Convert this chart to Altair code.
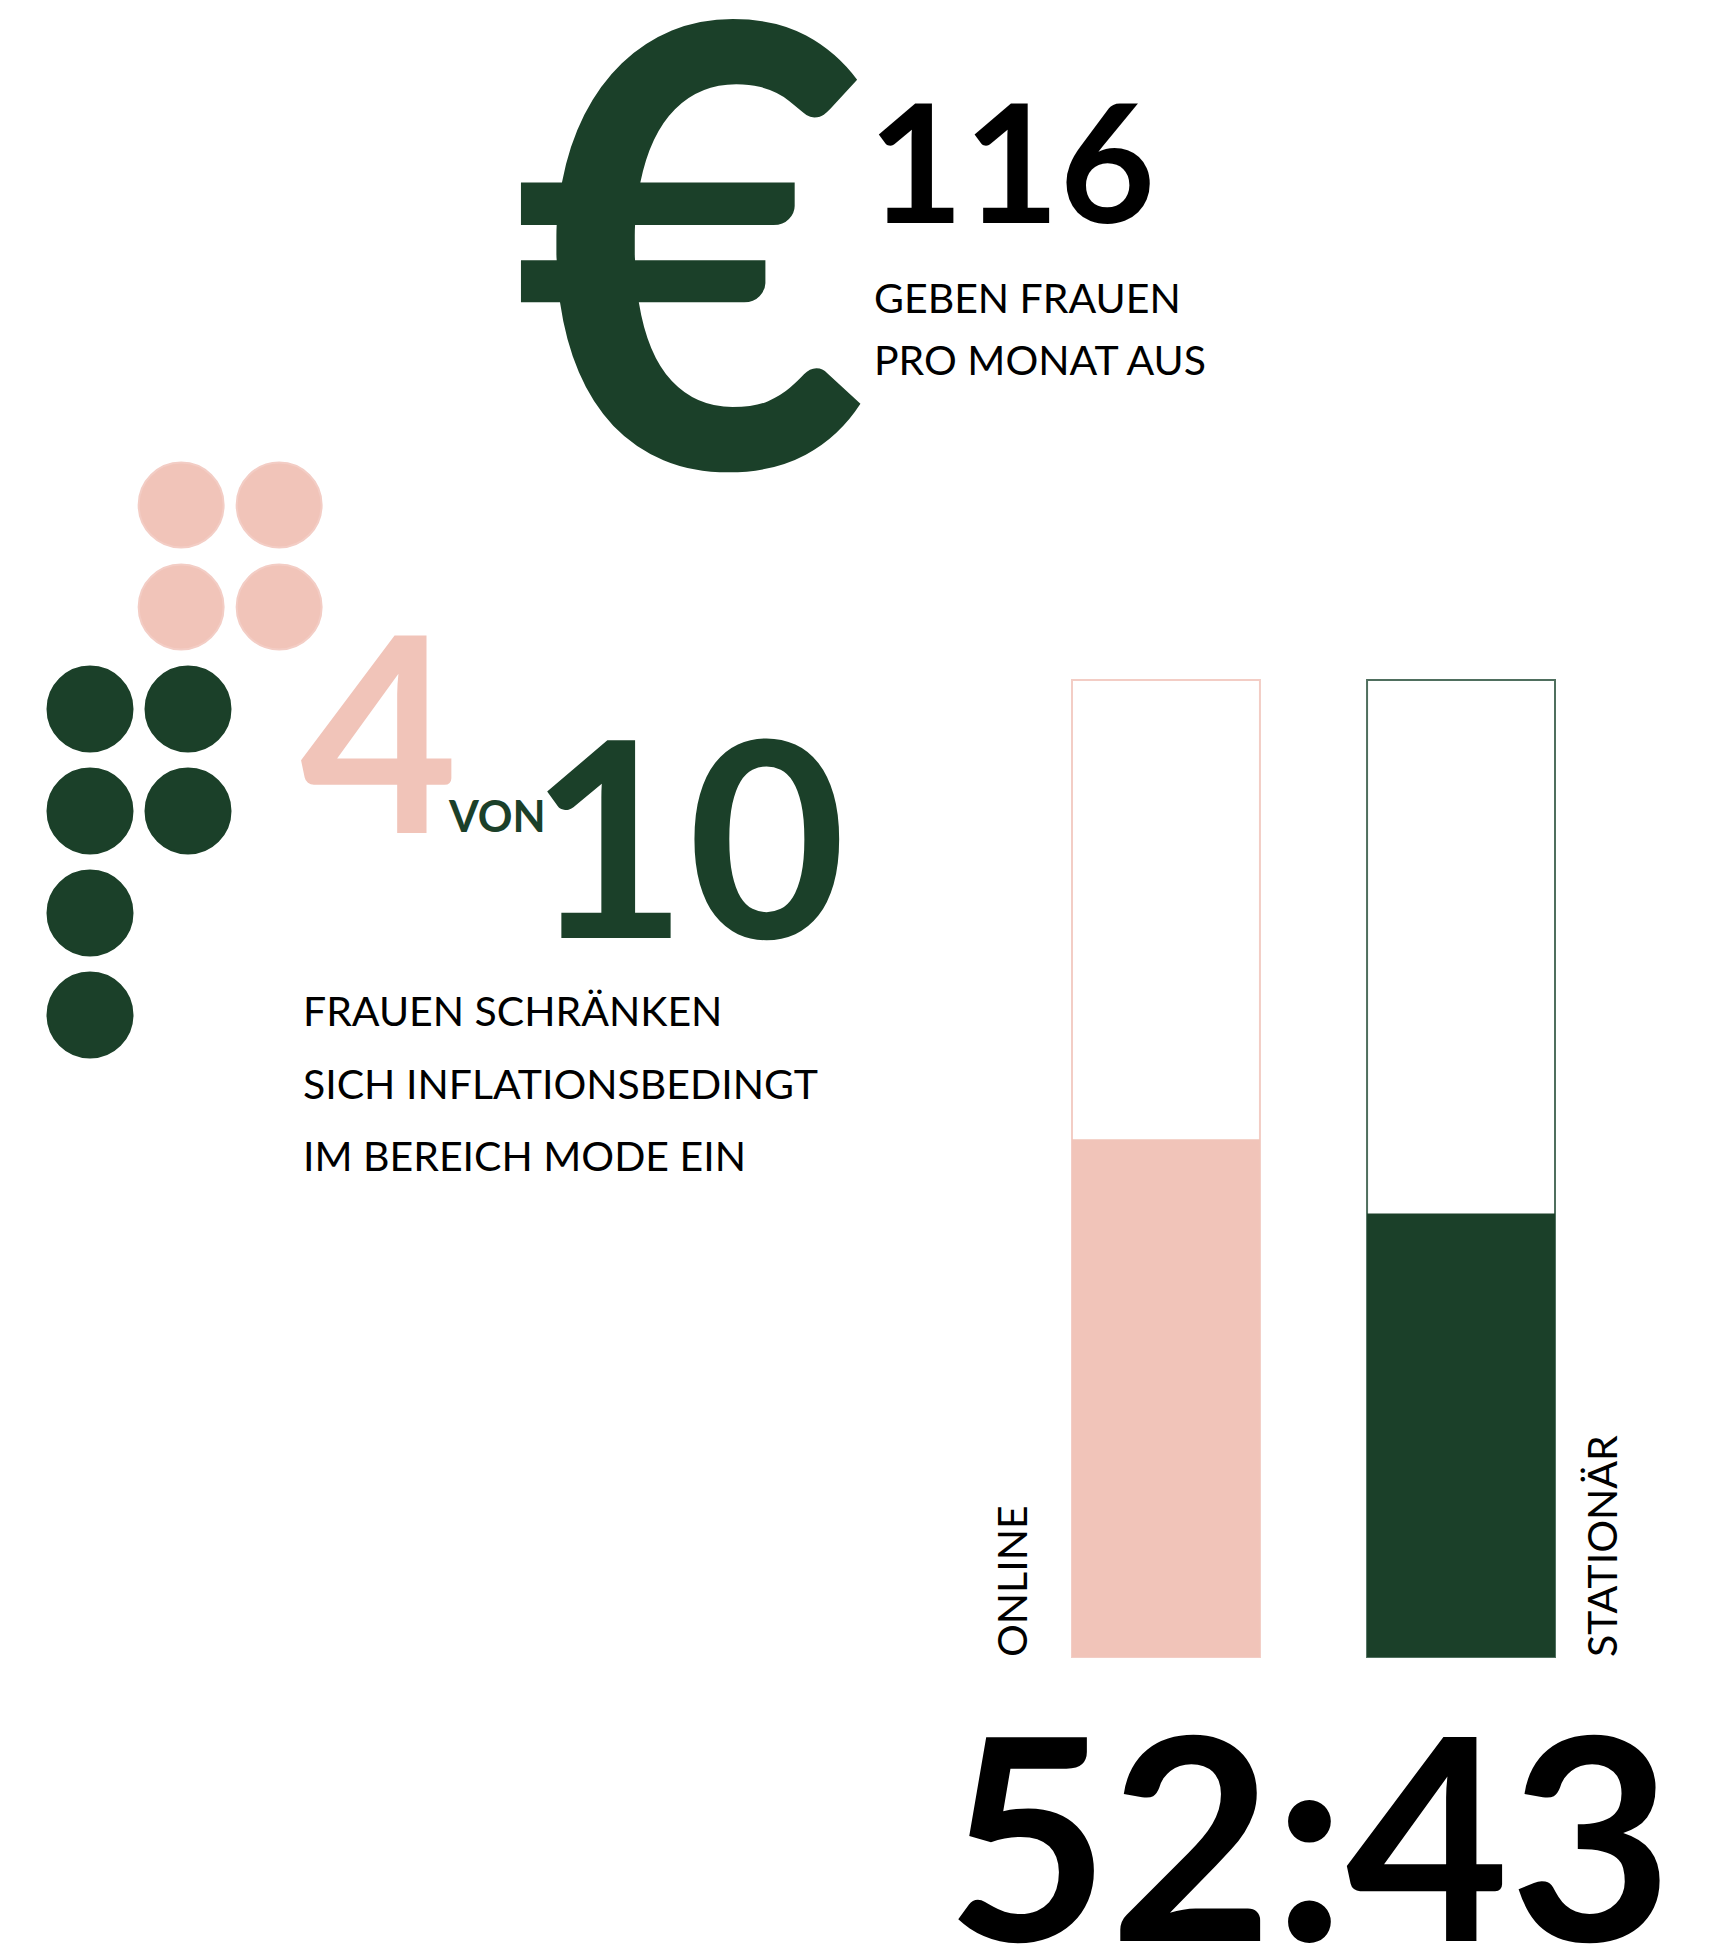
import altair as alt
import pandas as pd

# ---------------- data ----------------
currency_symbol = "€"
monthly_spend = "116"
spend_caption = ["GEBEN FRAUEN", "PRO MONAT AUS"]

share_part = 4
share_total = 10
share_joiner = "VON"
share_caption = ["FRAUEN SCHRÄNKEN", "SICH INFLATIONSBEDINGT", "IM BEREICH MODE EIN"]

channels = ["ONLINE", "STATIONÄR"]
channel_values = [53.0, 45.4]          # bar fill heights (of 100)
ratio_label = "52:43"

# ---------------- style ----------------
GREEN = "#1b4029"
PINK = "#f1c4b9"
PINK_EDGE = "#f3cdc5"
GREEN_EDGE = "#4f6f5e"
FONT = "Lato"
W, H = 1705, 1938
O = 8  # page margin offset


def txt(text, x, y, size, color="black", weight="normal", align="left", angle=0):
    return alt.Chart(pd.DataFrame({"t": [text]})).mark_text(
        font=FONT, fontSize=size, fontWeight=weight, color=color,
        align=align, baseline="alphabetic", angle=angle
    ).encode(text="t:N", x=alt.value(x - O), y=alt.value(y - O))


def lines(items, x, y0, y1, size, color="black"):
    df = pd.DataFrame({"t": items, "line": list(range(len(items)))})
    return alt.Chart(df).mark_text(
        font=FONT, fontSize=size, color=color, align="left", baseline="alphabetic"
    ).encode(
        text="t:N",
        x=alt.value(x - O),
        y=alt.Y("line:Q", axis=None,
                scale=alt.Scale(domain=[0, len(items) - 1], range=[y0 - O, y1 - O], nice=False, zero=False)),
    )


# euro block
euro = txt(currency_symbol, 513, 468, 615, GREEN, "bold")
amount = txt(monthly_spend, 868, 223, 165, "black", "bold")
spend_lines = lines(spend_caption, 874, 313, 375, 41)

# dots (waffle of 10)
rows, cols, grp = [], [], []
for i in range(share_total):
    if i < 8:
        r, c = i // 2, i % 2
    else:
        r, c = i - 4, 0
    pink = i < share_part
    rows.append(r)
    cols.append(c + (0.93 if pink else 0))
    grp.append("part" if pink else "rest")
dots_df = pd.DataFrame({"row": rows, "col": cols, "grp": grp})
dots = alt.Chart(dots_df).mark_point(filled=True, shape="circle", size=85 * 85, strokeWidth=2).encode(
    x=alt.X("col:Q", axis=None, scale=alt.Scale(domain=[0, 1], range=[90 - O, 188 - O], nice=False, zero=False)),
    y=alt.Y("row:Q", axis=None, scale=alt.Scale(domain=[0, 5], range=[505 - O, 1015 - O], nice=False, zero=False)),
    fill=alt.Fill("grp:N", legend=None, scale=alt.Scale(domain=["part", "rest"], range=[PINK, GREEN])),
    stroke=alt.Stroke("grp:N", legend=None, scale=alt.Scale(domain=["part", "rest"], range=[PINK_EDGE, GREEN])),
    opacity=alt.value(1),
)

four = txt(str(share_part), 300, 833, 273, PINK, "bold")
von = txt(share_joiner, 449, 832, 43, GREEN, "bold")
ten = txt(str(share_total), 846, 938, 273, GREEN, "bold", align="right")
share_lines = lines(share_caption, 303, 1026, 1171, 41)

# bars
bars_df = pd.DataFrame({"ch": channels, "v": channel_values, "full": [100, 100]})
xband = alt.X("ch:N", axis=None, sort=channels,
              scale=alt.Scale(domain=channels, range=[1072 - O, 1555 - O], paddingInner=0.363, paddingOuter=0))
yval = alt.Scale(domain=[0, 100], range=[1657 - O, 680 - O], nice=False, zero=True)
outline = alt.Chart(bars_df).mark_bar(fill="white", strokeWidth=2).encode(
    x=xband,
    y=alt.Y("full:Q", axis=None, scale=yval),
    stroke=alt.Stroke("ch:N", legend=None, scale=alt.Scale(domain=channels, range=[PINK_EDGE, GREEN_EDGE])),
)
fill = alt.Chart(bars_df).mark_bar().encode(
    x=xband,
    y=alt.Y("v:Q", axis=None, scale=yval),
    fill=alt.Fill("ch:N", legend=None, scale=alt.Scale(domain=channels, range=[PINK, GREEN])),
)
lab_online = txt(channels[0], 1027, 1657, 41, "black", "normal", angle=270)
lab_stat = txt(channels[1], 1617, 1657, 41, "black", "normal", angle=270)

ratio = txt(ratio_label, 946, 1941, 282, "black", "bold")

chart = alt.layer(
    euro, amount, spend_lines,
    dots, four, von, ten, share_lines,
    outline, fill, lab_online, lab_stat, ratio,
).resolve_scale(
    x="independent", y="independent", fill="independent", stroke="independent"
).properties(
    width=W, height=H, padding=0, autosize=alt.AutoSizeParams(type="none"),
).configure_view(stroke=None)

chart.save("out.html", embed_options={"renderer": "svg", "actions": False})
